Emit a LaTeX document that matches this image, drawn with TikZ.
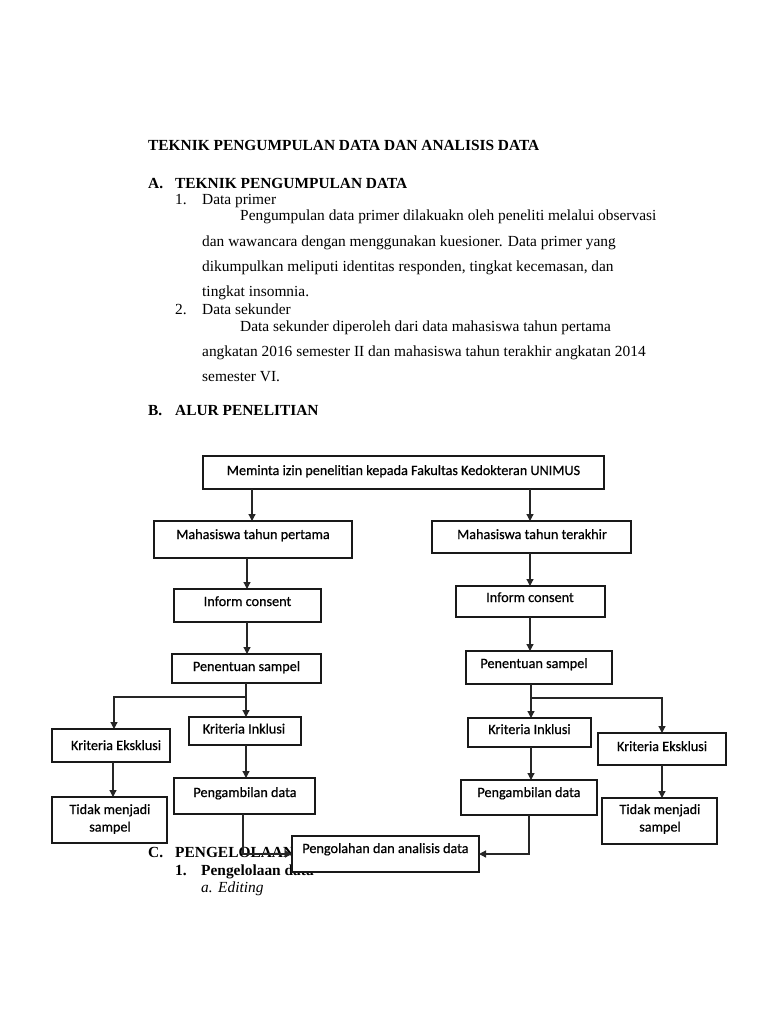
\documentclass[tikz,border=0pt]{standalone}
\usepackage{fontspec}
\setmainfont{Liberation Serif}
\newfontfamily\boxfont[FakeBold=0.6]{Carlito}
\usetikzlibrary{arrows.meta}
\newcommand\bxnode[5]{\node[box, minimum width={#4-#2}, minimum height={#5-#3}] (#1) at ({(#2+#4)/2},{(#3+#5)/2}) {};}
\begin{document}
\begin{tikzpicture}[x=1pt,y=-1pt,
  box/.style={draw=black!90, line width=1.2pt, fill=white, inner sep=0pt, outer sep=0pt},
  btxt/.style={font=\boxfont\fontsize{14.2}{17.5}\selectfont, inner sep=0pt, anchor=base, align=center},
  body/.style={font=\fontsize{15.4}{18}\selectfont, inner sep=0pt, anchor=base west},
  bbody/.style={body, font=\fontsize{15.4}{18}\selectfont\bfseries},
  conn/.style={draw=black!85, line width=1.2pt},
  arr/.style={conn, -{Triangle[length=7pt,width=7pt]}}]
\useasboundingbox[fill=white] (0,0) rectangle (768,1024);

% ---------- body text ----------
\node[bbody] (title) at (148,151) {TEKNIK PENGUMPULAN DATA DAN ANALISIS DATA};
\node[bbody] (a-l) at (148,189) {A.};
\node[bbody] (a-t) at (175,189) {TEKNIK PENGUMPULAN DATA};
\node[body] (n1) at (175,205) {1.};
\node[body] (n1t) at (202,205) {Data primer};
\node[body] (p1) at (240,221) {Pengumpulan data primer dilakuakn oleh peneliti melalui observasi};
\node[body] (p2) at (202,246) {dan wawancara dengan menggunakan kuesioner. Data primer yang};
\node[body] (p3) at (202,271) {dikumpulkan meliputi identitas responden, tingkat kecemasan, dan};
\node[body] (p4) at (202,296) {tingkat insomnia.};
\node[body] (n2) at (175,314) {2.};
\node[body] (n2t) at (202,314) {Data sekunder};
\node[body] (q1) at (240,331) {Data sekunder diperoleh dari data mahasiswa tahun pertama};
\node[body] (q2) at (202,356) {angkatan 2016 semester II dan mahasiswa tahun terakhir angkatan 2014};
\node[body] (q3) at (202,381) {semester VI.};
\node[bbody] (b-l) at (148,415) {B.};
\node[bbody] (b-t) at (175,415) {ALUR PENELITIAN};
\node[bbody] (c-l) at (148,857) {C.};
\node[bbody] (c-t) at (175,857) {PENGELOLAAN DATA};
\node[bbody] (c1) at (175,875) {1.};
\node[bbody] (c1t) at (201,875) {Pengelolaan data};
\node[body, font=\fontsize{15.4}{18}\selectfont\itshape] (ca) at (201,892) {a.};
\node[body, font=\fontsize{15.4}{18}\selectfont\itshape] (cat) at (218,892) {Editing};

% ---------- boxes ----------
\bxnode{top}{203}{456}{604}{489}
\bxnode{mp}{154}{521}{352}{558}
\bxnode{mt}{432}{521}{631}{553}
\bxnode{icL}{174}{589}{321}{622}
\bxnode{icR}{456}{586}{605}{617}
\bxnode{psL}{172}{654}{321}{683}
\bxnode{psR}{466}{651}{612}{684}
\bxnode{kiL}{189}{717}{301}{745}
\bxnode{keL}{52}{729}{170}{762}
\bxnode{kiR}{468}{718}{591}{747}
\bxnode{keR}{598}{733}{726}{765}
\bxnode{paL}{174}{778}{315}{814}
\bxnode{paR}{461}{780}{597}{815}
\bxnode{tmL}{52}{797}{167}{843}
\bxnode{tmR}{602}{798}{717}{844}
\bxnode{pd}{292}{836}{479}{872}

% ---------- box texts ----------
\node[btxt] (top-t) at (403.5,475) {Meminta izin penelitian kepada Fakultas Kedokteran UNIMUS};
\node[btxt] (mp-t) at (253,539) {Mahasiswa tahun pertama};
\node[btxt] (mt-t) at (532,539) {Mahasiswa tahun terakhir};
\node[btxt] (icL-t) at (247.5,606) {Inform consent};
\node[btxt] (icR-t) at (530,602) {Inform consent};
\node[btxt] (psL-t) at (246.5,671) {Penentuan sampel};
\node[btxt] (psR-t) at (534,668) {Penentuan sampel};
\node[btxt] (kiL-t) at (244,733.5) {Kriteria Inklusi};
\node[btxt] (keL-t) at (116,750) {Kriteria Eksklusi};
\node[btxt] (kiR-t) at (529.5,734) {Kriteria Inklusi};
\node[btxt] (keR-t) at (662,751) {Kriteria Eksklusi};
\node[btxt] (paL-t) at (245,797) {Pengambilan data};
\node[btxt] (paR-t) at (529,797) {Pengambilan data};
\node[btxt, anchor=center] (tmL-t) at (110,819) {Tidak menjadi\\sampel};
\node[btxt, anchor=center] (tmR-t) at (660,819) {Tidak menjadi\\sampel};
\node[btxt] (pd-t) at (385.5,853) {Pengolahan dan analisis data};

% ---------- connectors ----------
\coordinate (jL) at (246,697);
\coordinate (jR) at (531,698);
\draw[arr] ([xshift=-1pt]mp.north |- top.south) -- ([xshift=-1pt]mp.north);
\draw[arr] ([xshift=-1.5pt]mt.north |- top.south) -- ([xshift=-1.5pt]mt.north);
\draw[arr] ([xshift=-0.5pt]icL.north |- mp.south) -- ([xshift=-0.5pt]icL.north);
\draw[arr] ([xshift=-0.5pt]icL.south) -- ([xshift=-0.5pt]icL.south |- psL.north);
\draw[arr] ([xshift=-0.5pt]icR.north |- mt.south) -- ([xshift=-0.5pt]icR.north);
\draw[arr] ([xshift=-0.5pt]icR.south) -- ([xshift=-0.5pt]icR.south |- psR.north);
\draw[arr] (jL |- psL.south) -- (jL |- kiL.north);
\draw[arr] (jL) -| ([xshift=3pt]keL.north);
\draw[arr] (jR |- psR.south) -- (jR |- kiR.north);
\draw[arr] (jR) -| (keR.north);
\draw[arr] ([xshift=2pt]keL.south) -- ([xshift=2pt]keL.south |- tmL.north);
\draw[arr] (keR.south) -- (keR.south |- tmR.north);
\draw[arr] ([xshift=1pt]kiL.south) -- ([xshift=1pt]kiL.south |- paL.north);
\draw[arr] ([xshift=1.5pt]kiR.south) -- ([xshift=1.5pt]kiR.south |- paR.north);
\draw[arr] ([xshift=-1.5pt]paL.south) |- (pd.west);
\draw[arr] (paR.south) |- (pd.east);
\end{tikzpicture}
\end{document}
